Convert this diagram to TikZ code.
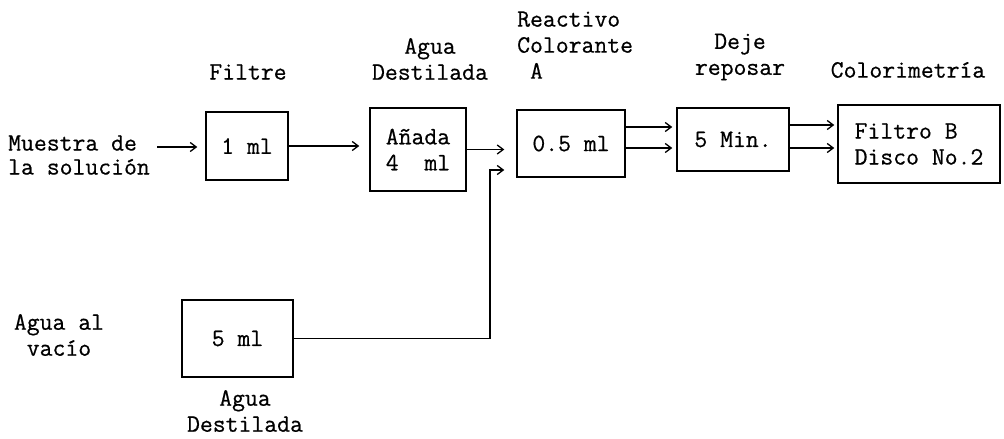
\documentclass[tikz,border=0pt]{standalone}
\usepackage{fontspec}
\usetikzlibrary{arrows.meta,calc}
\newfontfamily\typew{Latin Modern Mono}[FakeBold=0.6]
\newcommand\myfs{\fontsize{25}{26}\selectfont\typew}
\begin{document}
\begin{tikzpicture}[x=1pt,y=-1pt,
  box/.style={draw, line width=1.5pt, inner sep=0pt, font=\myfs, align=center},
  lbl/.style={font=\myfs, align=center, inner sep=0pt},
  arr/.style={line width=1.3pt, -{Straight Barb[length=6pt,width=9pt,line width=1.3pt]}}]
\useasboundingbox (0,0) rectangle (1004,439);
% boxes
\node[box,minimum width=82pt,minimum height=68pt] (b1) at (247,146) {1 ml};
\node[box,minimum width=96pt,minimum height=83pt] (b2) at (418,149.5) {Añada\\4\ \ ml};
\node[box,minimum width=108pt,minimum height=67pt] (b3) at (571,143.5) {0.5 ml};
\node[box,minimum width=112pt,minimum height=63pt] (b4) at (733,139.5) {5 Min.};
\node[box,minimum width=162pt,minimum height=78pt,align=left] (b5) at (919,144) {Filtro B\\Disco No.2};
\node[box,minimum width=111pt,minimum height=77pt] (b6) at (237.5,338.5) {5 ml};
% labels
\node[lbl] (lfil) at (248,72) {Filtre};
\node[lbl] (lagua) at (430,59) {Agua\\Destilada};
\node[lbl,align=left,anchor=west] (lreac) at (517,45) {Reactivo\\Colorante\\\hphantom{x}A};
\node[lbl] (ldeje) at (740,57) {Deje\\reposar};
\node[lbl] (lcol) at (908,70) {Colorimetría};
\node[lbl,align=left,anchor=west,font=\fontsize{25}{24}\selectfont\typew] (lmue) at (8,155) {Muestra de\\la solución};
\node[lbl] (lvac) at (59,335) {Agua al\\vacío};
\node[lbl] (lad) at (245,411) {Agua\\Destilada};
% connectors
\coordinate (m1) at (157,147);
\draw[arr,shorten >=8pt] (m1) -- (m1 -| b1.west);
\draw[arr,shorten >=10pt] (b1.east) -- (b1.east -| b2.west);
\draw[arr,shorten >=12pt] (b2.east) -- (b2.east -| b3.west);
\coordinate (j) at (490,170);
\draw[arr,shorten >=12pt] (b6.east) -| (j) -- (j -| b3.west);
\draw[arr,shorten >=4pt] ($(b3.east)+(0,-16.5)$) -- ($(b3.east -| b4.west)+(0,-16.5)$);
\draw[arr,shorten >=4pt] ($(b3.east)+(0,4.5)$) -- ($(b3.east -| b4.west)+(0,4.5)$);
\draw[arr,shorten >=3pt] ($(b4.east)+(0,-14.5)$) -- ($(b4.east -| b5.west)+(0,-14.5)$);
\draw[arr,shorten >=3pt] ($(b4.east)+(0,8.5)$) -- ($(b4.east -| b5.west)+(0,8.5)$);
\end{tikzpicture}
\end{document}
